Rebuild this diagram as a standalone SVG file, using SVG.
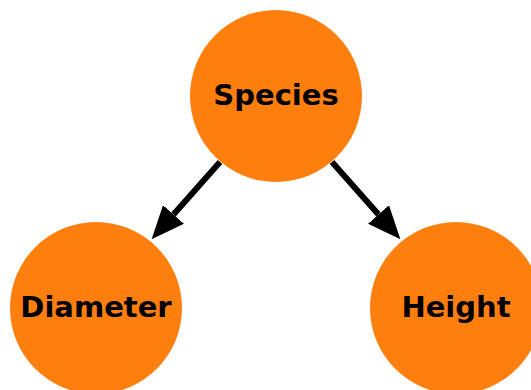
<svg xmlns="http://www.w3.org/2000/svg" width="531" height="390" viewBox="0 0 531 390">
  <style>
    .node circle { fill: #ff7f0e; }
    .node text { font-family: "DejaVu Sans", sans-serif; font-weight: bold; font-size: 29px; fill: #000; text-anchor: middle; }
    .edge { stroke: #000; stroke-width: 6; fill: none; marker-end: url(#head); }
  </style>
  <defs>
    <marker id="head" viewBox="0 0 33 28" markerWidth="33" markerHeight="28" markerUnits="userSpaceOnUse" refX="0" refY="14" orient="auto">
      <path d="M0,0 L33,14 L0,28 Z" fill="#000"/>
    </marker>
  </defs>
  <rect width="531" height="390" fill="#fff"/>
  <g id="connectors">
    <line class="edge" x1="220" y1="162" x2="173.5" y2="214.5"/>
    <line class="edge" x1="332" y1="162" x2="378.5" y2="214.5"/>
  </g>
  <g id="species" class="node">
    <circle cx="276" cy="96" r="86"/>
    <text x="276" y="104.5">Species</text>
  </g>
  <g id="diameter" class="node">
    <circle cx="96" cy="308" r="86"/>
    <text x="96" y="316.5">Diameter</text>
  </g>
  <g id="height" class="node">
    <circle cx="456" cy="308" r="86"/>
    <text x="456" y="316.5">Height</text>
  </g>
</svg>
